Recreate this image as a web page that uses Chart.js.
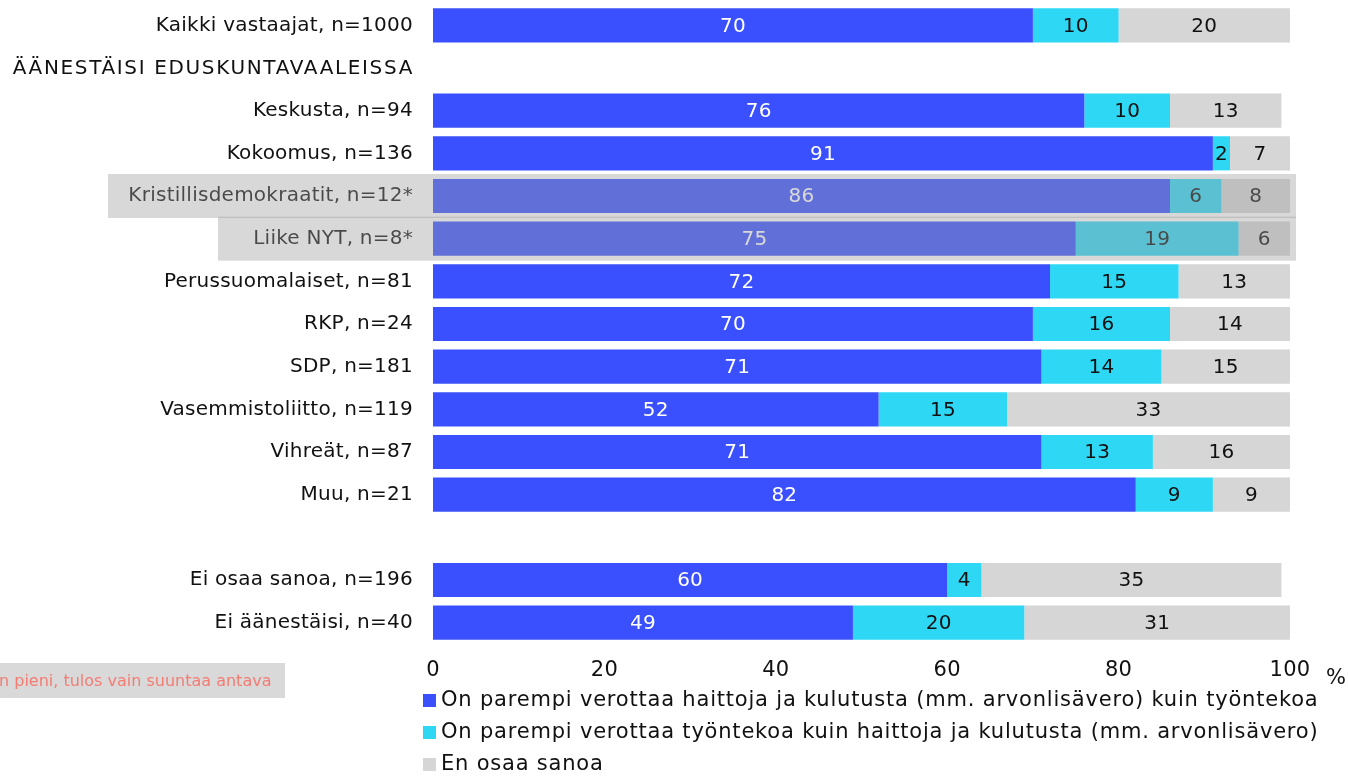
<!DOCTYPE html>
<html>
<head>
<meta charset="utf-8">
<script src="https://cdn.jsdelivr.net/npm/chart.js@4.4.1/dist/chart.umd.min.js"></script>
<style>
  html, body { margin: 0; padding: 0; background: #fff; }
  #container { width: 1348px; height: 776px; }
</style>
</head>
<body>
<div id="container"><canvas id="myChart" width="1348" height="776"></canvas></div>
<script>
const categories = [
  "Kaikki vastaajat, n=1000",
  "ÄÄNESTÄISI EDUSKUNTAVAALEISSA",
  "Keskusta, n=94",
  "Kokoomus, n=136",
  "Kristillisdemokraatit, n=12*",
  "Liike NYT, n=8*",
  "Perussuomalaiset, n=81",
  "RKP, n=24",
  "SDP, n=181",
  "Vasemmistoliitto, n=119",
  "Vihreät, n=87",
  "Muu, n=21",
  "",
  "Ei osaa sanoa, n=196",
  "Ei äänestäisi, n=40"
];
const parempiHaitat = [70, null, 76, 91, 86, 75, 72, 70, 71, 52, 71, 82, null, 60, 49];
const parempiTyo = [10, null, 10, 2, 6, 19, 15, 16, 14, 15, 13, 9, null, 4, 20];
const enOsaa = [20, null, 13, 7, 8, 6, 13, 14, 15, 33, 16, 9, null, 35, 31];
const seriesNames = [
  "On parempi verottaa haittoja ja kulutusta (mm. arvonlisävero) kuin työntekoa",
  "On parempi verottaa työntekoa kuin haittoja ja kulutusta (mm. arvonlisävero)",
  "En osaa sanoa"
];
const xTicks = [0, 20, 40, 60, 80, 100];
const headerRow = "ÄÄNESTÄISI EDUSKUNTAVAALEISSA";
const smallSample = ["Kristillisdemokraatit, n=12*", "Liike NYT, n=8*"];
const footnote = "n pieni, tulos vain suuntaa antava";

const FONT = "'DejaVu Sans', sans-serif";
const colors = ["#3A50FF", "#2ED8F5", "#D6D6D6"];
const labelColors = ["#ffffff", "#111111", "#111111"];

// a little extra letter spacing like the original
const spacing = {
  id: "spacing",
  beforeDraw(chart) { chart.ctx.letterSpacing = "0.25px"; }
};

// numbers in the middle of each segment
const segmentLabels = {
  id: "segmentLabels",
  afterDatasetsDraw(chart) {
    const ctx = chart.ctx;
    ctx.save();
    ctx.font = "20px " + FONT;
    ctx.textAlign = "center";
    ctx.textBaseline = "middle";
    chart.data.datasets.forEach(function (ds, di) {
      const meta = chart.getDatasetMeta(di);
      meta.data.forEach(function (bar, i) {
        const v = ds.data[i];
        if (v === null || v === undefined) return;
        ctx.fillStyle = labelColors[di];
        ctx.fillText(String(v), (bar.x + bar.base) / 2, bar.y + 1);
      });
    });
    ctx.restore();
  }
};

// header row, grey box over the rows with a small sample, legend, footnote
const extras = {
  id: "extras",
  afterDraw(chart) {
    const ctx = chart.ctx;
    const yScale = chart.scales.y;
    const xScale = chart.scales.x;
    const area = chart.chartArea;
    ctx.save();

    // section header (wider letter spacing)
    ctx.fillStyle = "#111";
    ctx.font = "20px " + FONT;
    ctx.textAlign = "right";
    ctx.textBaseline = "middle";
    ctx.letterSpacing = "1.65px";
    ctx.fillText(headerRow, yScale.right - 19, yScale.getPixelForValue(categories.indexOf(headerRow)) + 1);
    ctx.letterSpacing = "0.25px";

    const boxLeft = [108, 218];
    ctx.fillStyle = "rgba(158,158,158,0.4)";
    smallSample.forEach(function (name, k) {
      const i = categories.indexOf(name);
      const y = yScale.getPixelForValue(i);
      ctx.fillRect(boxLeft[k], y - 22, area.right + 6 - boxLeft[k], 44);
    });

    // percent sign after the axis
    ctx.textAlign = "left";
    ctx.fillStyle = "#111";
    ctx.font = "21px " + FONT;
    ctx.fillText("%", xScale.right + 36, 679);

    // legend
    ctx.letterSpacing = "0.8px";
    chart.data.datasets.forEach(function (ds, di) {
      const y = 700 + di * 32;
      ctx.fillStyle = ds.backgroundColor;
      ctx.fillRect(423, y - 6, 13, 13);
      ctx.fillStyle = "#111";
      ctx.fillText(ds.label, 441, y + 1);
    });

    // footnote
    ctx.letterSpacing = "0px";
    ctx.fillStyle = "#D9D9D9";
    ctx.fillRect(0, 663, 285, 35);
    ctx.fillStyle = "#F47C72";
    ctx.font = "16px " + FONT;
    ctx.fillText(footnote, -1, 682);
    ctx.restore();
  }
};

const ctx = document.getElementById("myChart").getContext("2d");
const myChart = new Chart(ctx, {
  type: "bar",
  data: {
    labels: categories,
    datasets: [
      { label: seriesNames[0], data: parempiHaitat, backgroundColor: colors[0] },
      { label: seriesNames[1], data: parempiTyo, backgroundColor: colors[1] },
      { label: seriesNames[2], data: enOsaa, backgroundColor: colors[2] }
    ]
  },
  options: {
    indexAxis: "y",
    responsive: false,
    animation: false,
    barPercentage: 0.8,
    categoryPercentage: 1,
    layout: { padding: { left: 0, right: 58, top: 4, bottom: 0 } },
    plugins: { legend: { display: false }, tooltip: { enabled: false } },
    scales: {
      x: {
        stacked: true,
        min: 0,
        max: 100,
        afterBuildTicks(scale) {
          scale.ticks = xTicks.map(function (v) { return { value: v }; });
        },
        grid: { display: false, drawTicks: false },
        border: { display: false },
        ticks: { color: "#111", font: { size: 21, family: FONT }, padding: 14 },
        afterFit(scale) { scale.height = 132; }
      },
      y: {
        stacked: true,
        grid: { display: false, drawTicks: false },
        border: { display: false },
        ticks: {
          color: "#111",
          font: { size: 20, family: FONT },
          padding: 20,
          autoSkip: false,
          callback(value) {
            const label = this.getLabelForValue(value);
            return label === headerRow ? "" : label;
          }
        },
        afterFit(scale) {
          scale.width = 433;
          scale.paddingTop = 0;
          scale.paddingBottom = 0;
        }
      }
    }
  },
  plugins: [spacing, segmentLabels, extras]
});
</script>
</body>
</html>
